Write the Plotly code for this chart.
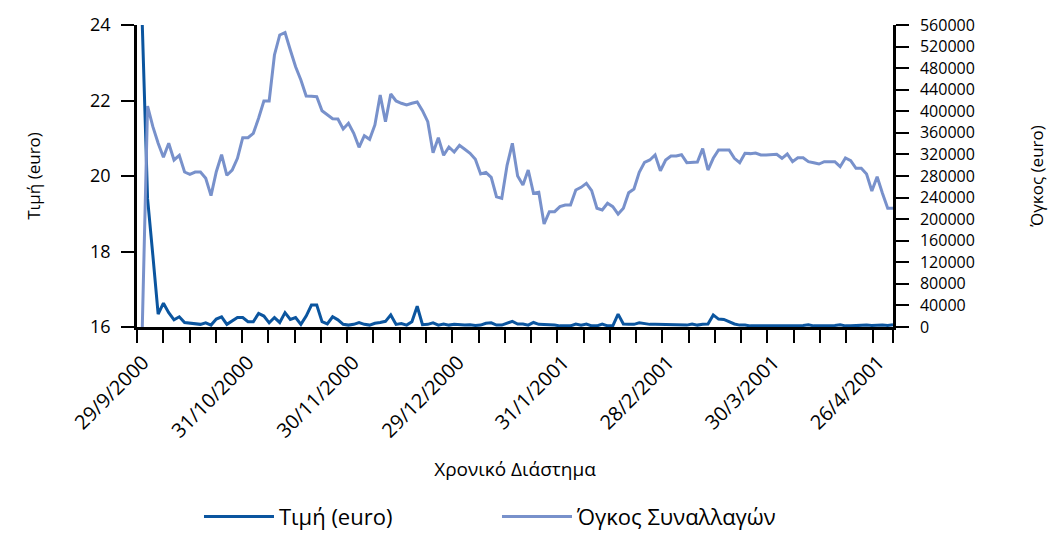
import plotly.graph_objects as go

# Tick labels (dates) of the x axis
date_labels = ["29/9/2000", "31/10/2000", "30/11/2000", "29/12/2000",
               "31/1/2001", "28/2/2001", "30/3/2001", "26/4/2001"]

# Τιμή (euro) – daily values (left axis)
price = [24.0, 19.4, 17.9, 16.34, 16.63, 16.38, 16.19, 16.27, 16.12, 16.10,
         16.07, 16.07, 16.11, 16.05, 16.21, 16.27, 16.07, 16.16, 16.25, 16.25,
         16.14, 16.14, 16.36, 16.29, 16.11, 16.25, 16.12, 16.38, 16.20, 16.25,
         16.07, 16.29, 16.58, 16.58, 16.14, 16.08, 16.27, 16.19, 16.07, 16.05,
         16.07, 16.12, 16.07, 16.05, 16.10, 16.12, 16.15, 16.32, 16.07, 16.09,
         16.05, 16.14, 16.55, 16.06, 16.07, 16.11, 16.05, 16.08, 16.05, 16.07,
         16.05, 16.05, 16.06, 16.04, 16.05, 16.10, 16.11, 16.05, 16.05, 16.10,
         16.15, 16.08, 16.08, 16.05, 16.12, 16.07, 16.07, 16.07, 16.05, 16.03,
         16.03, 16.03, 16.08, 16.05, 16.08, 16.03, 16.03, 16.08, 16.03, 16.03,
         16.34, 16.08, 16.07, 16.07, 16.11, 16.08, 16.07, 16.07, 16.07, 16.07,
         16.07, 16.05, 16.07, 16.05, 16.08, 16.05, 16.07, 16.08, 16.32, 16.21,
         16.20, 16.14, 16.08, 16.05, 16.05, 16.03, 16.03, 16.03, 16.03, 16.03,
         16.04, 16.03, 16.03, 16.03, 16.03, 16.04, 16.06, 16.03, 16.03, 16.03,
         16.03, 16.04, 16.06, 16.03, 16.03, 16.04, 16.05, 16.05, 16.04, 16.05,
         16.05, 16.04, 16.06]

# Όγκος Συναλλαγών – daily values (right axis)
volume = [0, 409800, 371400, 340600, 314700, 340600, 309700, 318400, 287400, 283100,
          287400, 287400, 275700, 243500, 288000, 319500, 281300, 291100, 312800, 351000,
          351000, 359200, 387000, 419100, 419100, 504400, 541500, 545800, 513600, 482700,
          458000, 428300, 427800, 427100, 401100, 393100, 386300, 385700, 367200, 377700,
          359200, 333200, 354700, 348000, 374600, 430200, 380700, 432000, 419100, 414800,
          411700, 414800, 417200, 401100, 380700, 323300, 351000, 318400, 333800, 324500,
          336900, 329500, 322100, 310900, 283700, 286800, 277600, 241600, 238600, 299800,
          340600, 280000, 263300, 291100, 247900, 249800, 191000, 213800, 213800, 223100,
          226200, 226200, 254000, 259000, 266400, 252800, 220100, 217000, 229300, 223100,
          209500, 220100, 249000, 255900, 286800, 305400, 309700, 318900, 289800, 309700,
          317100, 317100, 319500, 304700, 306000, 306000, 330700, 291100, 312800, 328200,
          328200, 328200, 312800, 304700, 322100, 321500, 322600, 318900, 318900, 319500,
          320200, 312800, 320800, 306500, 313900, 313900, 306500, 304700, 302200, 306500,
          306500, 306500, 297300, 313400, 308400, 294300, 294300, 283700, 252200, 278700,
          247900, 220100, 220100]

days = list(range(len(price)))

FONT = "Open Sans"
DARK = "#0B559F"
LIGHT = "#7891CB"

minor_step = 4.969
label_pos = [-1 + 4 * minor_step * k for k in range(len(date_labels))]
tickvals = label_pos + [days[-1]]
ticktext = date_labels + [""]

fig = go.Figure()
fig.add_trace(go.Scatter(x=days, y=price, mode="lines", name="Τιμή (euro)",
                         line=dict(color=DARK, width=3), yaxis="y"))
fig.add_trace(go.Scatter(x=days, y=volume, mode="lines", name="Όγκος Συναλλαγών",
                         line=dict(color=LIGHT, width=3), yaxis="y2"))

axis_common = dict(showgrid=False, zeroline=False, showline=True, linecolor="black",
                   linewidth=2.5, ticks="outside", ticklen=13, tickwidth=2,
                   tickcolor="black", automargin=False)

fig.update_layout(
    width=1052, height=534,
    margin=dict(l=137, r=159, t=25, b=207, autoexpand=False),
    paper_bgcolor="white", plot_bgcolor="white",
    font=dict(family=FONT, color="black", size=16),
    xaxis=dict(**axis_common, range=[-1, days[-1]], tickmode="array",
               tickvals=tickvals, ticktext=ticktext, tickangle=-45,
               tickfont=dict(size=20), ticklabelshift=6,
               minor=dict(ticks="outside", ticklen=13, tickwidth=2, tickcolor="black",
                          tick0=-1, dtick=minor_step),
               title=dict(text="Χρονικό Διάστημα", font=dict(size=19), standoff=21)),
    yaxis=dict(**axis_common, range=[16, 24], dtick=2, tickfont=dict(size=18),
               ticklabelstandoff=7,
               title=dict(text="Τιμή (euro)", font=dict(size=17), standoff=46)),
    yaxis2=dict(**axis_common, range=[0, 560000], dtick=40000, overlaying="y",
                side="right", tickfont=dict(size=16), tickformat="d",
                ticklabelstandoff=8,
                title=dict(text="Όγκος (euro)", font=dict(size=17), standoff=58)),
    legend=dict(orientation="h", x=0.082, xanchor="left", y=-0.628, yanchor="middle",
                font=dict(size=22), itemwidth=70, entrywidth=213,
                entrywidthmode="pixels"),
    showlegend=True,
)

fig.write_html("out.html", config={"displayModeBar": False},
               post_script="document.body.style.margin='0';")
